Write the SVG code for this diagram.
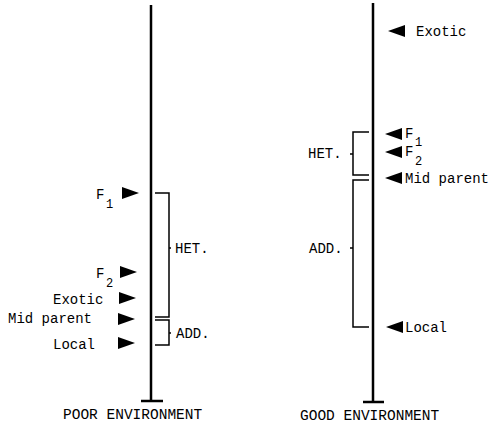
<svg xmlns="http://www.w3.org/2000/svg" width="500" height="425" viewBox="0 0 500 425">
<style>
text{font-family:"Liberation Mono","DejaVu Sans Mono",monospace;font-size:14px;fill:#000}
.sub{font-size:12px}
.axis{stroke:#000;stroke-width:2.5;fill:none}
.br{stroke:#000;stroke-width:1.5;fill:none}
.arr{fill:#000}
</style>
<rect width="500" height="425" fill="#fff"/>
<g id="connectors">
<path class="axis" d="M151 5V401M141 401H163"/>
<path class="axis" d="M373 3V402M363 402H384"/>
</g>
<g id="poor-F1"><text x="96" y="199">F</text><text class="sub" x="106" y="208">1</text><polygon class="arr" points="122,187 139,193 122,199"/></g>
<g id="poor-F2"><text x="96" y="278">F</text><text class="sub" x="106" y="287">2</text><polygon class="arr" points="120,266 137,272 120,278"/></g>
<g id="poor-exotic"><text x="53" y="304">Exotic</text><polygon class="arr" points="119,292 136,298 119,304"/></g>
<g id="poor-mid"><text x="8" y="323">Mid parent</text><polygon class="arr" points="118,313 135,319 118,325"/></g>
<g id="poor-local"><text x="53" y="349">Local</text><polygon class="arr" points="118,337 135,343 118,349"/></g>
<g id="poor-het"><path class="br" d="M155 193H169V317H155M169 248H171"/><text x="175" y="253">HET.</text></g>
<g id="poor-add"><path class="br" d="M155 320H169V345H155M169 333H171"/><text x="176" y="338">ADD.</text></g>
<g id="poor-label"><text x="63" y="419" style="font-size:14.5px">POOR ENVIRONMENT</text></g>
<g id="good-exotic"><polygon class="arr" points="405,25 388,31 405,37"/><text x="416" y="36">Exotic</text></g>
<g id="good-F1"><polygon class="arr" points="402,128 385,134 402,140"/><text x="405" y="138">F</text><text class="sub" x="415" y="146">1</text></g>
<g id="good-F2"><polygon class="arr" points="402,146 385,152 402,158"/><text x="405" y="156">F</text><text class="sub" x="415" y="165">2</text></g>
<g id="good-mid"><polygon class="arr" points="402,172 385,178 402,184"/><text x="405" y="183">Mid parent</text></g>
<g id="good-local"><polygon class="arr" points="403,321 386,327 403,333"/><text x="405" y="332">Local</text></g>
<g id="good-het"><path class="br" d="M369 132H353V175H369M353 154H350"/><text x="308" y="158">HET.</text></g>
<g id="good-add"><path class="br" d="M369 180H353V327H369M353 248H350"/><text x="309" y="253">ADD.</text></g>
<g id="good-label"><text x="300" y="420" style="font-size:14.5px">GOOD ENVIRONMENT</text></g>
</svg>
